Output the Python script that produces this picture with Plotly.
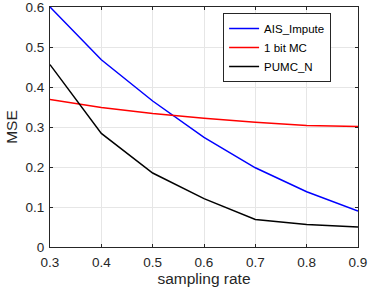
import plotly.graph_objects as go

sampling_rate = [0.3, 0.4, 0.5, 0.6, 0.7, 0.8, 0.9]
ais_impute = [0.600, 0.468, 0.365, 0.274, 0.198, 0.138, 0.090]
one_bit_mc = [0.369, 0.349, 0.334, 0.322, 0.312, 0.304, 0.301]
pumc_n = [0.456, 0.284, 0.185, 0.121, 0.069, 0.056, 0.050]

x_ticks = [0.3, 0.4, 0.5, 0.6, 0.7, 0.8, 0.9]
y_ticks = [0, 0.1, 0.2, 0.3, 0.4, 0.5, 0.6]

fig = go.Figure()
fig.add_trace(go.Scatter(x=sampling_rate, y=ais_impute, mode="lines", name="AIS_Impute",
                         line=dict(color="#0000ff", width=1.5)))
fig.add_trace(go.Scatter(x=sampling_rate, y=one_bit_mc, mode="lines", name="1 bit MC",
                         line=dict(color="#ff0000", width=1.5)))
fig.add_trace(go.Scatter(x=sampling_rate, y=pumc_n, mode="lines", name="PUMC_N",
                         line=dict(color="#000000", width=1.5)))

FONT = "Liberation Sans, Arial, sans-serif"
axis_common = dict(
    showgrid=True, gridcolor="#e6e6e6", gridwidth=1,
    showline=True, linecolor="#262626", linewidth=1, mirror="ticks",
    ticks="inside", ticklen=3, tickcolor="#262626", tickwidth=1,
    zeroline=False, ticklabeloverflow="allow", automargin=False,
    tickfont=dict(family=FONT, size=13.5, color="#262626"),
)

fig.update_layout(
    width=374, height=288,
    margin=dict(l=50, r=16, t=7, b=41),
    plot_bgcolor="white", paper_bgcolor="white",
    font=dict(family=FONT, size=13, color="#262626"),
    xaxis=dict(range=[0.3, 0.9], tickvals=x_ticks, ticktext=[f"{v:g}" for v in x_ticks],
               ticklabelstandoff=3,
               title=dict(text="sampling rate", font=dict(size=15.5), standoff=3), **axis_common),
    yaxis=dict(range=[0, 0.6], tickvals=y_ticks, ticktext=[f"{v:g}" for v in y_ticks],
               ticklabelstandoff=2,
               title=dict(text="MSE", font=dict(size=15.5), standoff=4), **axis_common),
    legend=dict(x=0.562, y=0.975, xanchor="left", yanchor="top",
                bordercolor="#262626", borderwidth=1, bgcolor="white",
                font=dict(family=FONT, size=11.5, color="#000000"), tracegroupgap=0,
                itemwidth=30),
    showlegend=True,
)

fig.write_html("out.html", config={"displayModeBar": False},
               post_script="document.body.style.margin='0';")
